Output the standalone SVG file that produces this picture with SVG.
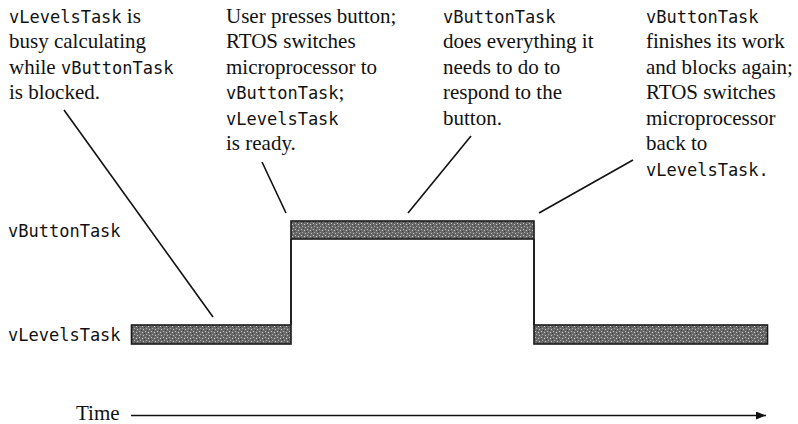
<svg xmlns="http://www.w3.org/2000/svg" width="798" height="424" viewBox="0 0 798 424">
  <defs>
    <style>
      .t { font-family: "Liberation Serif", "Times New Roman", serif; font-size: 21px; fill: #111; }
      .m { font-family: "DejaVu Sans Mono", "Liberation Mono", monospace; font-size: 17px; fill: #111; }
      .lead { stroke: #111; stroke-width: 1.6; fill: none; }
      .edge { stroke: #222; stroke-width: 2; fill: none; }
      .bar { fill: url(#speckle); stroke: #1a1a1a; stroke-width: 1.6; }
    </style>
    <pattern id="speckle" width="6" height="6" patternUnits="userSpaceOnUse">
      <rect width="6" height="6" fill="#686868"/>
      <rect x="1" y="1" width="1" height="1" fill="#bdbdbd"/>
      <rect x="4" y="2" width="1" height="1" fill="#d0d0d0"/>
      <rect x="2" y="4" width="1" height="1" fill="#a8a8a8"/>
      <rect x="5" y="5" width="1" height="1" fill="#c4c4c4"/>
      <rect x="0" y="3" width="1" height="1" fill="#3a3a3a"/>
      <rect x="3" y="0" width="1" height="1" fill="#444"/>
    </pattern>
    <marker id="arrow" viewBox="0 0 10 8" refX="10" refY="4" markerWidth="10" markerHeight="8" markerUnits="userSpaceOnUse" orient="auto">
      <path d="M0,0 L10,4 L0,8 Z" fill="#111"/>
    </marker>
  </defs>
  <rect width="798" height="424" fill="#fff"/>

  <g id="note-levels-busy">
    <text class="t" x="9" y="22.5"><tspan class="m">vLevelsTask</tspan> is</text>
    <text class="t" x="9" y="48">busy calculating</text>
    <text class="t" x="9" y="73.5">while <tspan class="m">vButtonTask</tspan></text>
    <text class="t" x="9" y="99">is blocked.</text>
  </g>

  <g id="note-button-pressed">
    <text class="t" x="226" y="22.5">User presses button;</text>
    <text class="t" x="226" y="48">RTOS switches</text>
    <text class="t" x="226" y="73.5">microprocessor to</text>
    <text class="t" x="226" y="99"><tspan class="m">vButtonTask</tspan>;</text>
    <text class="m" x="226" y="124.5">vLevelsTask</text>
    <text class="t" x="226" y="150">is ready.</text>
  </g>

  <g id="note-button-runs">
    <text class="m" x="443" y="22.5">vButtonTask</text>
    <text class="t" x="443" y="48">does everything it</text>
    <text class="t" x="443" y="73.5">needs to do to</text>
    <text class="t" x="443" y="99">respond to the</text>
    <text class="t" x="443" y="124.5">button.</text>
  </g>

  <g id="note-button-done">
    <text class="m" x="646" y="22.5">vButtonTask</text>
    <text class="t" x="646" y="48">finishes its work</text>
    <text class="t" x="646" y="73.5">and blocks again;</text>
    <text class="t" x="646" y="99">RTOS switches</text>
    <text class="t" x="646" y="124.5">microprocessor</text>
    <text class="t" x="646" y="150">back to</text>
    <text class="m" x="646" y="175.5">vLevelsTask.</text>
  </g>

  <g id="label-button-task">
    <text class="m" x="8" y="237">vButtonTask</text>
  </g>
  <g id="label-levels-task">
    <text class="m" x="8" y="341">vLevelsTask</text>
  </g>
  <g id="label-time">
    <text class="t" x="76" y="420">Time</text>
  </g>

  <g id="bar-levels-1">
    <rect class="bar" x="131.5" y="325" width="159.5" height="19"/>
  </g>
  <g id="bar-button">
    <rect class="bar" x="291" y="221" width="243" height="18"/>
  </g>
  <g id="bar-levels-2">
    <rect class="bar" x="534" y="325" width="233.5" height="19"/>
  </g>

  <g id="connectors">
    <line class="edge" x1="291" y1="239" x2="291" y2="325"/>
    <line class="edge" x1="534" y1="239" x2="534" y2="325"/>
    <line class="lead" x1="64" y1="110" x2="213" y2="317"/>
    <line class="lead" x1="262" y1="162" x2="286" y2="213"/>
    <line class="lead" x1="471" y1="136" x2="408" y2="213"/>
    <line class="lead" x1="633" y1="160" x2="539" y2="213"/>
    <line class="lead" x1="131" y1="415.5" x2="766" y2="415.5" marker-end="url(#arrow)"/>
  </g>
</svg>
